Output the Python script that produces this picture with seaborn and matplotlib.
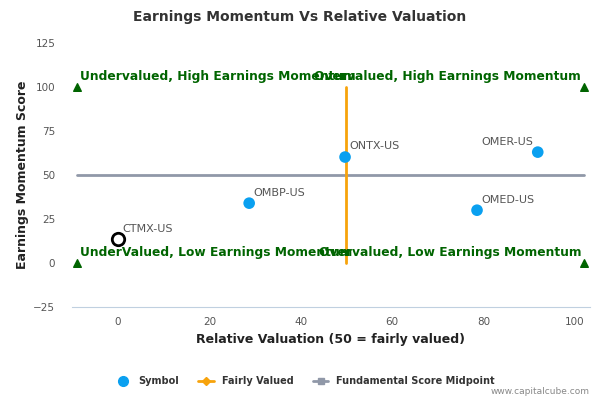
import matplotlib
matplotlib.use("Agg")
import matplotlib.pyplot as plt
import seaborn as sns
import pandas as pd
from matplotlib.lines import Line2D

# --- data ---
symbols = ["CTMX-US", "OMBP-US", "ONTX-US", "OMER-US", "OMED-US"]
valuation = [0.0, 28.7, 49.7, 91.9, 78.6]
momentum = [13.5, 34.0, 60.2, 63.0, 30.0]
is_focus = [True, False, False, False, False]

fair_x = [50, 50]
fair_y = [0, 100]
mid_x = [-9, 102]
mid_y = [50, 50]

corner_x = [-9, -9, 102, 102]
corner_y = [100, 0, 100, 0]
quad_labels = ["Undervalued, High Earnings Momentum", "UnderValued, Low Earnings Momentum",
               "Overvalued, High Earnings Momentum", "Overvalued, Low Earnings Momentum"]

x_ticks = [0, 20, 40, 60, 80, 100]
y_ticks = [-25, 0, 25, 50, 75, 100, 125]

df = pd.DataFrame({"symbol": symbols, "x": valuation, "y": momentum, "focus": is_focus})

sns.set_style("white")
plt.rcParams["font.family"] = ["DejaVu Sans"]

fig = plt.figure(figsize=(6, 4), dpi=100)
ax = fig.add_axes([0.12, 0.2325, 0.863, 0.66])

green = "#006400"
blue = "#0AA0F0"
orange = "#F7A30C"
grey = "#9098A8"

ax.plot(mid_x, mid_y, color=grey, lw=2, zorder=1)
ax.plot(fair_x, fair_y, color=orange, lw=2, zorder=2)

sns.scatterplot(data=df[~df.focus], x="x", y="y", color=blue, s=70, edgecolor="none",
                ax=ax, zorder=3, legend=False)
sns.scatterplot(data=df[df.focus], x="x", y="y", facecolor="white", edgecolor="black",
                linewidth=2, s=80, ax=ax, zorder=3, legend=False)

ax.scatter(corner_x, corner_y, marker="^", color=green, s=30, zorder=3)

for _, r in df.iterrows():
    if r.symbol == "OMER-US":
        ax.annotate(r.symbol, (r.x, r.y), xytext=(-3, 4), textcoords="offset points",
                    ha="right", va="bottom", fontsize=8, color="#555555")
    else:
        ax.annotate(r.symbol, (r.x, r.y), xytext=(3, 4), textcoords="offset points",
                    ha="left", va="bottom", fontsize=8, color="#555555")

for cx, cy, lab in zip(corner_x, corner_y, quad_labels):
    left = cx < 50
    ax.annotate(lab, (cx, cy), xytext=(2 if left else -2, 3), textcoords="offset points",
                ha="left" if left else "right", va="bottom", fontsize=8.8,
                fontweight="bold", color=green, zorder=4)

ax.set_xlim(-10.1, 103.3)
ax.set_ylim(-25, 125)
ax.set_xticks(x_ticks)
ax.set_yticks(y_ticks)
ax.tick_params(axis="both", labelsize=7.5, labelcolor="#555555")
ax.tick_params(axis="x", length=4, color="#C0D0E0", direction="out")
ax.tick_params(axis="y", length=0, pad=12)
for side in ["top", "right", "left"]:
    ax.spines[side].set_visible(False)
ax.spines["bottom"].set_color("#C0D0E0")

ax.set_xlabel("Relative Valuation (50 = fairly valued)", fontsize=9, fontweight="bold", color="#222222")
ax.set_ylabel("Earnings Momentum Score", fontsize=9, fontweight="bold", color="#222222", labelpad=3)
fig.text(0.5, 0.958, "Earnings Momentum Vs Relative Valuation", ha="center", va="center",
         fontsize=10, fontweight="bold", color="#333333")

handles = [
    Line2D([], [], marker="o", color=blue, ls="none", markersize=7),
    Line2D([], [], marker="D", color=orange, lw=2, markersize=4),
    Line2D([], [], marker="s", color=grey, lw=2, markersize=5),
]
fig.legend(handles, ["Symbol", "Fairly Valued", "Fundamental Score Midpoint"],
           loc="center", bbox_to_anchor=(0.508, 0.047), ncol=3, frameon=False,
           prop={"size": 7, "weight": "bold"}, labelcolor="#333333",
           handlelength=1.6, columnspacing=2.0)
fig.text(0.982, 0.02, "www.capitalcube.com", ha="right", va="center", fontsize=6.5, color="#888888")

fig.savefig("out.png", dpi=100)
